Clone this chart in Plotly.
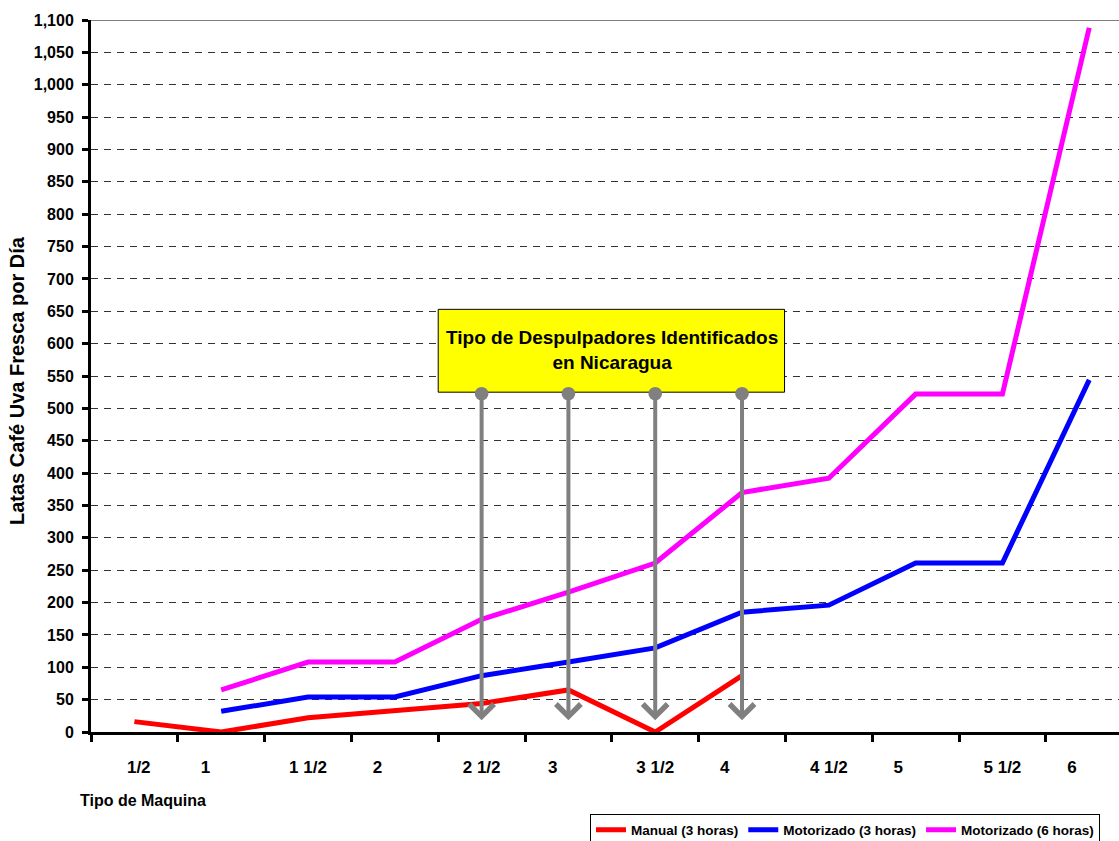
import plotly.graph_objects as go

# Machine size categories and daily capacity (cans of fresh coffee cherry per day)
tipo_maquina = ["1/2", "1", "1 1/2", "2", "2 1/2", "3", "3 1/2", "4", "4 1/2", "5", "5 1/2", "6"]
manual_3h = [16, 0, 22, 33, 44, 65, 0, 87, None, None, None, None]
motor_3h = [None, 32, 54, 54, 87, 108, 130, 185, 196, 261, 261, 544]
motor_6h = [None, 65, 108, 108, 174, 216, 261, 370, 392, 522, 522, 1088]

# Categories pointed at by the callout arrows
identificados = ["2 1/2", "3", "3 1/2", "4"]

FONT = "Arial, 'Liberation Sans', sans-serif"
idx = list(range(len(tipo_maquina)))
# small horizontal nudges of the category labels
label_shift = [0.05, -0.18, 0, -0.2, 0, -0.18, 0, -0.2, 0, -0.2, 0, -0.2]
label_pos = [i + s for i, s in zip(idx, label_shift)]
x_range = [-0.5, 11.343]

fig = go.Figure()
series = [
    ("Manual (3 horas)", manual_3h, "#FF0000"),
    ("Motorizado (3 horas)", motor_3h, "#0000FF"),
    ("Motorizado (6 horas)", motor_6h, "#FF00FF"),
]
for name, vals, color in series:
    fig.add_trace(go.Scatter(
        x=idx, y=vals, name=name, mode="lines",
        line=dict(color=color, width=5),
        connectgaps=False,
    ))

# label axis carrier (no visible marks)
fig.add_trace(go.Scatter(x=[x_range[0]], y=[None], xaxis="x2", yaxis="y",
                         mode="lines", showlegend=False, hoverinfo="skip"))

# Callout box
box_y0, box_y1 = 525, 653
fig.add_shape(type="rect", xref="x", yref="y", x0=3.5, x1=7.49, y0=box_y0, y1=box_y1,
              fillcolor="#FFFF00", line=dict(color="black", width=1), layer="above")
fig.add_annotation(x=5.5, y=590, xref="x", yref="y", showarrow=False,
                   text="<b>Tipo de Despulpadores Identificados<br>en Nicaragua</b>",
                   font=dict(family=FONT, size=19, color="black"))

for cat in identificados:
    xi = tipo_maquina.index(cat)
    fig.add_annotation(
        x=xi, y=18, ax=xi, ay=box_y0, xref="x", yref="y", axref="x", ayref="y",
        text="", showarrow=True, arrowside="end+start",
        arrowhead=4, arrowsize=1.2, startarrowhead=6, startarrowsize=0.85,
        arrowwidth=4, arrowcolor="#808080", standoff=0, startstandoff=0,
    )

# Top frame line
fig.add_shape(type="line", xref="paper", yref="y", x0=0, x1=1, y0=1100, y1=1100,
              line=dict(color="#808080", width=2))

# Axis titles
fig.add_annotation(x=0, y=0.5, xref="paper", yref="paper", xanchor="center", yanchor="middle",
                   xshift=-74, yshift=-5, textangle=-90, showarrow=False,
                   text="<b>Latas Café Uva Fresca por Día</b>",
                   font=dict(family=FONT, size=20, color="black"))
fig.add_annotation(x=0, y=0, xref="paper", yref="paper", xanchor="left", yanchor="middle",
                   xshift=-13, yshift=-68, showarrow=False,
                   text="<b>Tipo de Maquina</b>",
                   font=dict(family=FONT, size=16, color="black"))

fig.update_layout(
    width=1119, height=841,
    margin=dict(l=91, r=0, t=20, b=109, autoexpand=False),
    paper_bgcolor="white", plot_bgcolor="white",
    font=dict(family=FONT, color="black"),
    xaxis=dict(
        range=x_range, tickmode="array", tickvals=[i - 0.5 for i in idx],
        showticklabels=False, ticks="outside", ticklen=7, tickwidth=3, tickcolor="black",
        showline=True, linewidth=3, linecolor="black", showgrid=False, zeroline=False,
    ),
    xaxis2=dict(
        overlaying="x", anchor="y", side="bottom", range=x_range,
        tickmode="array", tickvals=label_pos, ticktext=tipo_maquina,
        ticks="outside", ticklen=20, tickcolor="rgba(0,0,0,0)",
        tickfont=dict(family=FONT, size=17, color="black", weight="bold"),
        showline=False, showgrid=False, zeroline=False,
    ),
    yaxis=dict(
        range=[0, 1100], dtick=50, tick0=0, tickformat=",",
        ticks="outside", ticklen=6, tickwidth=3, tickcolor="black", ticklabelstandoff=5,
        tickfont=dict(family=FONT, size=16, color="black", weight="bold"),
        showline=True, linewidth=3, linecolor="black",
        showgrid=True, gridcolor="#333333", gridwidth=1, griddash="7px,6px",
        zeroline=False,
    ),
    legend=dict(
        orientation="h", x=0.4854, xanchor="left", y=-0.1145, yanchor="top",
        bordercolor="black", borderwidth=1, bgcolor="white",
        font=dict(family=FONT, size=13.5, color="black", weight="bold"),
        itemwidth=30, tracegroupgap=0,
    ),
)

fig.write_html("out.html")
